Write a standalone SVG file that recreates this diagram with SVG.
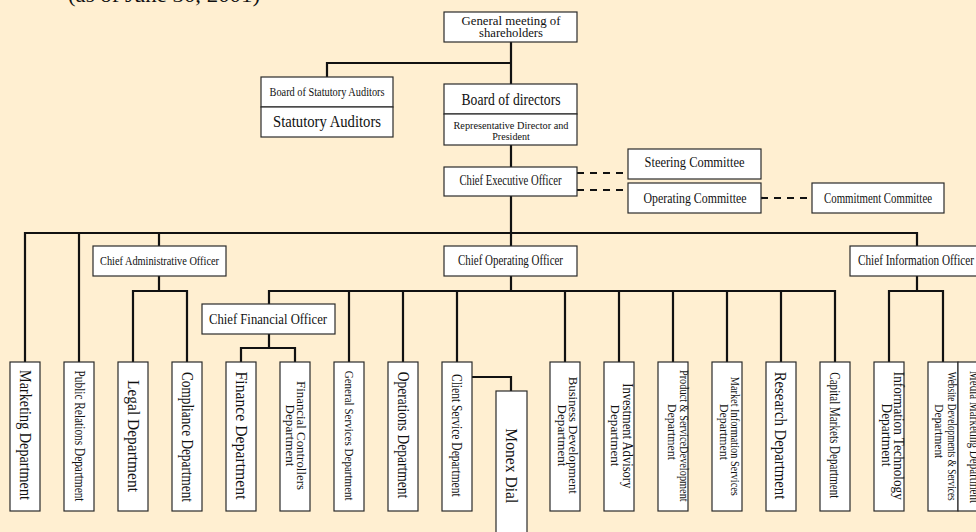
<svg xmlns="http://www.w3.org/2000/svg" width="976" height="532" viewBox="0 0 976 532">
<style>
.bg{fill:#FFEFD1}
.box{fill:#fff;stroke:#2a2a2a;stroke-width:1.2}
.ln{fill:none;stroke:#111;stroke-width:2.2}
.dash{fill:none;stroke:#111;stroke-width:2.2;stroke-dasharray:7 6}
text{font-family:"Liberation Serif","Times New Roman",serif;fill:#111;text-anchor:middle}
</style>
<rect class="bg" x="0" y="0" width="976" height="532"/>
<text x="164" y="2" font-size="22" textLength="192" lengthAdjust="spacingAndGlyphs" fill="#333">(as of June 30, 2001)</text>

<g id="connectors">
  <path class="ln" d="M511,42 V84"/>
  <path class="ln" d="M511,63 H327 V77"/>
  <path class="ln" d="M511,145 V167"/>
  <path class="dash" d="M577,173 H628"/>
  <path class="dash" d="M577,190 H628"/>
  <path class="dash" d="M761,198 H812"/>
  <path class="ln" d="M511,196 V233"/>
  <path class="ln" d="M25,362 V233 H917 V246"/>
  <path class="ln" d="M79,233 V362"/>
  <path class="ln" d="M159,233 V246"/>
  <path class="ln" d="M511,233 V246"/>
  <path class="ln" d="M159,276 V291 M133,362 V291 H187 V362"/>
  <path class="ln" d="M511,276 V291"/>
  <path class="ln" d="M269,304 V291 H835 V362"/>
  <path class="ln" d="M349,291 V362 M403,291 V362 M457,291 V362 M565,291 V362 M619,291 V362 M673,291 V362 M727,291 V362 M781,291 V362"/>
  <path class="ln" d="M269,334 V348 M241,362 V348 H295 V362"/>
  <path class="ln" d="M917,276 V291 M889,362 V291 H943 V362"/>
  <path class="ln" d="M472,377 H511 V391"/>
</g>

<g id="gm">
  <rect class="box" x="444" y="12" width="133" height="30"/>
  <text x="511" y="24.5" font-size="11.5" textLength="99" lengthAdjust="spacingAndGlyphs">General meeting of</text>
  <text x="511" y="36.5" font-size="11.5" textLength="64" lengthAdjust="spacingAndGlyphs">shareholders</text>
</g>
<g id="auditors">
  <rect class="box" x="261" y="77" width="132" height="30"/>
  <rect class="box" x="261" y="107" width="132" height="30"/>
  <text x="327" y="95.5" font-size="13" textLength="115" lengthAdjust="spacingAndGlyphs">Board of Statutory Auditors</text>
  <text x="327" y="127" font-size="17" textLength="108" lengthAdjust="spacingAndGlyphs">Statutory Auditors</text>
</g>
<g id="board">
  <rect class="box" x="444" y="84" width="133" height="30"/>
  <rect class="box" x="444" y="114" width="133" height="31"/>
  <text x="511" y="105" font-size="17.5" textLength="99" lengthAdjust="spacingAndGlyphs">Board of directors</text>
  <text x="511" y="128.5" font-size="11" textLength="115" lengthAdjust="spacingAndGlyphs">Representative Director and</text>
  <text x="511" y="140" font-size="11" textLength="37.5" lengthAdjust="spacingAndGlyphs">President</text>
</g>
<g id="ceo">
  <rect class="box" x="444" y="167" width="133" height="29"/>
  <text x="510.5" y="185" font-size="14" textLength="102" lengthAdjust="spacingAndGlyphs">Chief Executive Officer</text>
</g>
<g id="steering">
  <rect class="box" x="628" y="149" width="133" height="30"/>
  <text x="694.5" y="167" font-size="14" textLength="100" lengthAdjust="spacingAndGlyphs">Steering Committee</text>
</g>
<g id="operating">
  <rect class="box" x="628" y="183" width="133" height="30"/>
  <text x="695" y="202.5" font-size="14" textLength="103" lengthAdjust="spacingAndGlyphs">Operating Committee</text>
</g>
<g id="commitment">
  <rect class="box" x="812" y="183" width="132" height="30"/>
  <text x="878" y="202.5" font-size="14" textLength="108" lengthAdjust="spacingAndGlyphs">Commitment Committee</text>
</g>
<g id="cao">
  <rect class="box" x="93" y="246" width="133" height="30"/>
  <text x="159.5" y="265" font-size="13.5" textLength="119" lengthAdjust="spacingAndGlyphs">Chief Administrative Officer</text>
</g>
<g id="coo">
  <rect class="box" x="444" y="246" width="133" height="30"/>
  <text x="510.5" y="265" font-size="14" textLength="105" lengthAdjust="spacingAndGlyphs">Chief Operating Officer</text>
</g>
<g id="cio">
  <rect class="box" x="850" y="246" width="133" height="30"/>
  <text x="916" y="265" font-size="14" textLength="116" lengthAdjust="spacingAndGlyphs">Chief Information Officer</text>
</g>
<g id="cfo">
  <rect class="box" x="202" y="304" width="133" height="30"/>
  <text x="268" y="323.5" font-size="15.5" textLength="118" lengthAdjust="spacingAndGlyphs">Chief Financial Officer</text>
</g>

<g id="marketing">
  <rect class="box" x="10" y="362" width="30" height="149"/>
  <text transform="translate(19.5,435) rotate(90)" font-size="17" textLength="130" lengthAdjust="spacingAndGlyphs">Marketing Department</text>
</g>
<g id="pr">
  <rect class="box" x="64" y="362" width="30" height="149"/>
  <text transform="translate(75,436) rotate(90)" font-size="14" textLength="131" lengthAdjust="spacingAndGlyphs">Public Relations Department</text>
</g>
<g id="legal">
  <rect class="box" x="118" y="362" width="30" height="149"/>
  <text transform="translate(127.5,436) rotate(90)" font-size="17.5" textLength="112" lengthAdjust="spacingAndGlyphs">Legal Department</text>
</g>
<g id="compliance">
  <rect class="box" x="172" y="362" width="30" height="149"/>
  <text transform="translate(181.7,437) rotate(90)" font-size="16" textLength="130" lengthAdjust="spacingAndGlyphs">Compliance Department</text>
</g>
<g id="finance">
  <rect class="box" x="226" y="362" width="30" height="149"/>
  <text transform="translate(235.5,435.5) rotate(90)" font-size="17" textLength="128" lengthAdjust="spacingAndGlyphs">Finance Department</text>
</g>
<g id="fincontrol">
  <rect class="box" x="280" y="362" width="30" height="149"/>
  <text transform="translate(297,435.5) rotate(90)" font-size="12.5" textLength="109" lengthAdjust="spacingAndGlyphs">Financial Controllers</text>
  <text transform="translate(286,435.5) rotate(90)" font-size="12.5" textLength="62" lengthAdjust="spacingAndGlyphs">Department</text>
</g>
<g id="genserv">
  <rect class="box" x="334" y="362" width="30" height="149"/>
  <text transform="translate(344.5,435.7) rotate(90)" font-size="13.5" textLength="130" lengthAdjust="spacingAndGlyphs">General Services Department</text>
</g>
<g id="operations">
  <rect class="box" x="388" y="362" width="30" height="149"/>
  <text transform="translate(397.5,435) rotate(90)" font-size="16" textLength="126.7" lengthAdjust="spacingAndGlyphs">Operations Department</text>
</g>
<g id="client">
  <rect class="box" x="442" y="362" width="30" height="149"/>
  <text transform="translate(452,435.3) rotate(90)" font-size="14" textLength="122.7" lengthAdjust="spacingAndGlyphs">Client Service Department</text>
</g>
<g id="monex">
  <rect class="box" x="496" y="391" width="31" height="150"/>
  <text transform="translate(505.8,465.8) rotate(90)" font-size="17" textLength="75" lengthAdjust="spacingAndGlyphs">Monex Dial</text>
</g>
<g id="busdev">
  <rect class="box" x="550" y="362" width="30" height="149"/>
  <text transform="translate(569,435.3) rotate(90)" font-size="12.5" textLength="117" lengthAdjust="spacingAndGlyphs">Business Development</text>
  <text transform="translate(557.5,435.5) rotate(90)" font-size="12.5" textLength="62" lengthAdjust="spacingAndGlyphs">Department</text>
</g>
<g id="invest">
  <rect class="box" x="604" y="362" width="30" height="149"/>
  <text transform="translate(622.5,435.8) rotate(90)" font-size="14" textLength="105" lengthAdjust="spacingAndGlyphs">Investment Advisory</text>
  <text transform="translate(611,435.5) rotate(90)" font-size="13" textLength="62" lengthAdjust="spacingAndGlyphs">Department</text>
</g>
<g id="product">
  <rect class="box" x="658" y="362" width="30" height="149"/>
  <text transform="translate(679.5,435.8) rotate(90)" font-size="11.5" textLength="131.7" lengthAdjust="spacingAndGlyphs">Product &amp; ServiceDevelopment</text>
  <text transform="translate(668,432) rotate(90)" font-size="11.5" textLength="56" lengthAdjust="spacingAndGlyphs">Department</text>
</g>
<g id="marketinfo">
  <rect class="box" x="712" y="362" width="30" height="149"/>
  <text transform="translate(731,436.3) rotate(90)" font-size="11.5" textLength="119" lengthAdjust="spacingAndGlyphs">Market Information Services</text>
  <text transform="translate(719.5,432) rotate(90)" font-size="11.5" textLength="56" lengthAdjust="spacingAndGlyphs">Department</text>
</g>
<g id="research">
  <rect class="box" x="766" y="362" width="30" height="149"/>
  <text transform="translate(775.2,435.5) rotate(90)" font-size="17.5" textLength="127.7" lengthAdjust="spacingAndGlyphs">Research Department</text>
</g>
<g id="capital">
  <rect class="box" x="820" y="362" width="30" height="149"/>
  <text transform="translate(830,435.3) rotate(90)" font-size="15" textLength="126" lengthAdjust="spacingAndGlyphs">Capital Markets Department</text>
</g>
<g id="it">
  <rect class="box" x="874" y="362" width="30" height="149"/>
  <text transform="translate(893.5,435.8) rotate(90)" font-size="14" textLength="128" lengthAdjust="spacingAndGlyphs">Information Technology</text>
  <text transform="translate(881.5,435) rotate(90)" font-size="14" textLength="63" lengthAdjust="spacingAndGlyphs">Department</text>
</g>
<g id="website">
  <rect class="box" x="928" y="362" width="30" height="149"/>
  <text transform="translate(948,436.2) rotate(90)" font-size="11.5" textLength="129" lengthAdjust="spacingAndGlyphs">Website Developments &amp; Services</text>
  <text transform="translate(935,431.3) rotate(90)" font-size="11.5" textLength="54" lengthAdjust="spacingAndGlyphs">Department</text>
</g>
<g id="media">
  <rect class="box" x="958" y="362" width="30" height="149"/>
  <text transform="translate(969.5,437) rotate(90)" font-size="15" textLength="132" lengthAdjust="spacingAndGlyphs">Media Marketing Department</text>
</g>
</svg>
